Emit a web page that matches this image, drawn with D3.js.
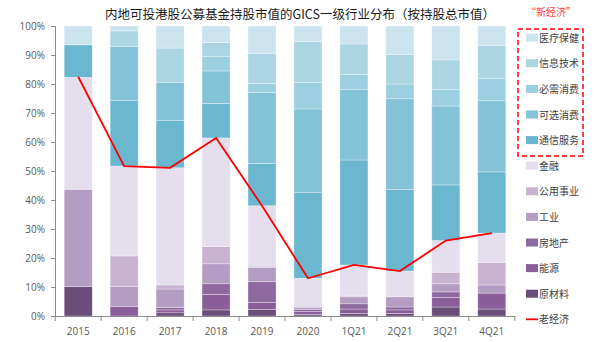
<!DOCTYPE html>
<html><head><meta charset="utf-8">
<script src="https://cdn.jsdelivr.net/npm/d3@7"></script>
<style>
body{margin:0;background:#fff;}
svg{display:block;font-family:"Noto Sans CJK SC","Noto Sans",sans-serif;}
</style></head>
<body><svg id="c" width="599" height="342"></svg>
<script>
const categories = ["2015","2016","2017","2018","2019","2020","1Q21","2Q21","3Q21","4Q21"];
// series, bottom to top
const seriesNames = ["原材料","能源","房地产","工业","公用事业","金融","通信服务","可选消费","必需消费","信息技术","医疗保健"];
const 原材料 = [10.1,0,1.1,2.1,2.3,0.6,0.9,0.9,3.1,2.4];
const 能源 = [0,3.2,1.0,5.4,2.4,0.9,1.5,1.2,3.3,5.5];
const 房地产 = [0,0,0.8,3.6,7.1,0.8,1.8,1.0,1.9,0];
const 工业 = [33.6,6.9,6.4,6.9,4.9,0.6,2.4,3.5,2.8,2.8];
const 公用事业 = [0,10.6,1.4,5.9,0.5,0.5,0.3,0,4.0,7.7];
const 金融 = [38.6,31.0,40.4,37.5,20.8,9.6,10.7,8.9,10.9,10.2];
const 通信服务 = [11.2,22.7,16.4,11.9,14.6,29.5,36.2,28.1,19.2,21.1];
const 可选消费 = [0,18.5,13.1,11.2,24.5,28.9,24.4,31.3,27.2,24.5];
const 必需消费 = [0,0,0,4.9,3.1,9.2,5.1,5.1,5.8,7.8];
const 信息技术 = [0,5.4,11.8,4.9,10.4,14.0,10.5,10.1,10.1,11.2];
const 医疗保健 = [6.5,1.7,7.6,5.7,9.4,5.4,6.2,9.9,11.7,6.8];
const 老经济 = [82.5,51.7,51.1,61.4,38.0,13.0,17.6,15.5,26.0,28.6];
const yTicks = [0,10,20,30,40,50,60,70,80,90,100];
const colors = ["#6a4e79","#8a5f99","#8d69a0","#b49dc3","#c8b4d1","#e5dfed","#6bb7d0","#84c2d7","#9ccfe0","#acd5e3","#cce4ee"];
const legendOrder = ["医疗保健","信息技术","必需消费","可选消费","通信服务","金融","公用事业","工业","房地产","能源","原材料"];
const title = "内地可投港股公募基金持股市值的GICS一级行业分布（按持股总市值）";

const seriesData = {原材料,能源,房地产,工业,公用事业,金融,通信服务,可选消费,必需消费,信息技术,医疗保健};
const rows = categories.map((c,i)=>{const r={cat:c}; seriesNames.forEach(s=>r[s]=seriesData[s][i]); return r;});
const stack = d3.stack().keys(seriesNames)(rows);

const svg = d3.select("#c");
const x = d3.scaleBand().domain(categories).range([55,515]).paddingInner(0.39).paddingOuter(0.2);
const y = d3.scaleLinear().domain([0,100]).range([316,26]);
const color = d3.scaleOrdinal().domain(seriesNames).range(colors);

svg.append("text").attr("x",300).attr("y",19).attr("text-anchor","middle")
  .attr("font-size",12.5).attr("fill","#1a1a1a").text(title);

svg.append("g").selectAll("g").data(stack).join("g").attr("fill",d=>color(d.key))
  .selectAll("rect").data(d=>d).join("rect")
  .attr("x",d=>x(d.data.cat)).attr("width",x.bandwidth())
  .attr("y",d=>y(d[1])).attr("height",d=>Math.max(0,y(d[0])-y(d[1])))
  .attr("stroke","#fff").attr("stroke-opacity",0.5).attr("stroke-width",0.6);

// y axis
const ya = svg.append("g").attr("transform","translate(55,0)")
  .call(d3.axisLeft(y).tickValues(yTicks).tickFormat(d=>d+"%").tickSize(4).tickPadding(6));
ya.select(".domain").attr("stroke","#8c8c8c");
ya.selectAll(".tick line").attr("stroke","#8c8c8c");
ya.selectAll("text").attr("font-size",10).attr("fill","#595959").attr("font-family","'Open Sans','Noto Sans',sans-serif");

// x axis
const xa = svg.append("g").attr("transform","translate(0,316)")
  .call(d3.axisBottom(x).tickSize(0).tickPadding(12));
xa.select(".domain").attr("stroke","#8c8c8c");
xa.selectAll("text").attr("font-size",10).attr("fill","#595959").attr("font-family","'Open Sans','Noto Sans',sans-serif");
const bounds = categories.map(c=>x(c)-x.step()*x.paddingInner()/2).concat([x(categories[categories.length-1])+x.bandwidth()+x.step()*x.paddingInner()/2]);
xa.selectAll(".bt").data(bounds).join("line").attr("class","bt")
  .attr("x1",d=>d).attr("x2",d=>d).attr("y1",0).attr("y2",5).attr("stroke","#8c8c8c");

// line
const line = d3.line().x((d,i)=>x(categories[i])+x.bandwidth()/2).y(d=>y(d));
svg.append("path").datum(老经济).attr("d",line).attr("fill","none").attr("stroke","#ff0000").attr("stroke-width",1.8);

// legend
const lg = svg.append("g");
lg.append("text").attr("x",526).attr("y",16).attr("font-size",10).attr("fill","#ff4040").text("“新经济”");
lg.append("rect").attr("x",518).attr("y",29).attr("width",65).attr("height",127)
  .attr("fill","none").attr("stroke","#ff0000").attr("stroke-width",1.5).attr("stroke-dasharray","5,3");
legendOrder.forEach((s,i)=>{
  const cy = 37.7 + i*25.6;
  lg.append("rect").attr("x",526).attr("y",cy-4).attr("width",12).attr("height",8).attr("fill",color(s));
  lg.append("text").attr("x",539).attr("y",cy+4).attr("font-size",10).attr("fill","#404040").text(s);
});
const ly = 37.7 + 11*25.6;
lg.append("line").attr("x1",526).attr("x2",538).attr("y1",ly).attr("y2",ly).attr("stroke","#ff0000").attr("stroke-width",1.8);
lg.append("text").attr("x",539).attr("y",ly+4).attr("font-size",10).attr("fill","#404040").text("老经济");
</script></body></html>
